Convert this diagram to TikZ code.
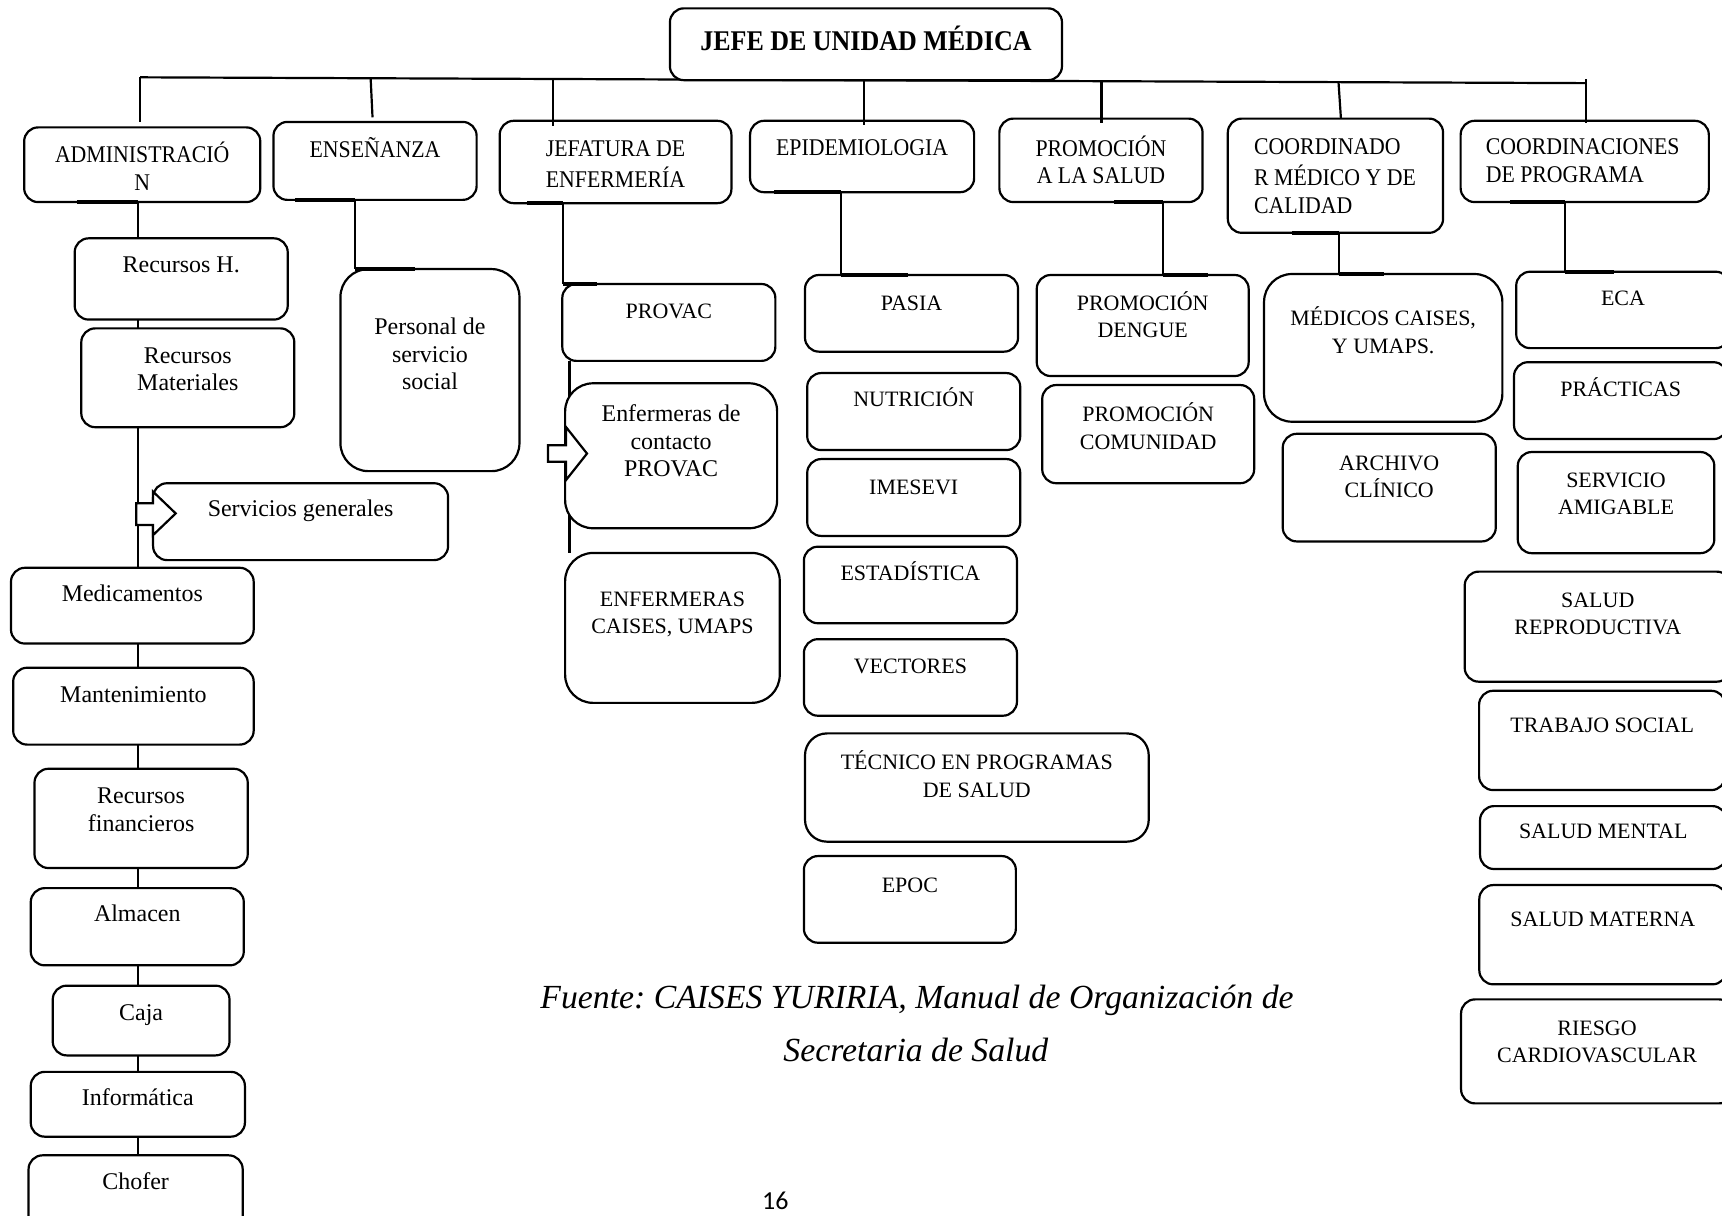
\documentclass[tikz,border=0pt]{standalone}
\usepackage{fontspec}
\setmainfont{Liberation Serif}
\newfontfamily\topf[FakeStretch=0.91]{Liberation Serif}
\newfontfamily\numf{Carlito}
\usetikzlibrary{backgrounds}
\frenchspacing
\tikzset{
  box/.style={draw, line width=1.1pt, rounded corners=7pt, fill=white, inner sep=0pt, outer sep=0pt},
  bigr/.style={rounded corners=14pt},
  medr/.style={rounded corners=11pt},
  conn/.style={line width=1.1pt},
  barl/.style={line width=2.1pt},
  blockarrow/.style={draw, line width=1.1pt, fill=white, line join=miter},
  titlet/.style={font=\topf\bfseries\fontsize{14.3}{16}\selectfont},
  topt/.style={font=\topf\fontsize{12}{13.75}\selectfont},
  upt/.style={font=\fontsize{11}{13.75}\selectfont},
  lowt/.style={font=\fontsize{12}{13.75}\selectfont},
  capt/.style={font=\itshape\fontsize{16.9}{20}\selectfont, inner sep=0pt, anchor=base},
}
% #1 style, #2 name, #3 x1, #4 y1, #5 x2, #6 y2, #7 first baseline y, #8 text
\newcommand\obox[8][]{%
  \pgfmathsetlengthmacro\obw{(#5-#3)*0.55}%
  \pgfmathsetlengthmacro\obh{(#6-#4)*0.55}%
  \pgfmathsetlengthmacro\obo{(#7-#4)*0.55}%
  \node[box,#1,anchor=north west] (#2) at (#3,#4)
    {\parbox[t][\obh][t]{\obw}{\vspace*{\dimexpr\obo-\ht\strutbox\relax}\centering\hyphenpenalty=10000\strut#8\par}};%
}
\begin{document}
\begin{tikzpicture}[x=0.55pt,y=-0.55pt]
\useasboundingbox (0,0) rectangle (1568,1107);
\clip (0,0) rectangle (1568,1107);

% ---------- top level ----------
\obox[titlet]{jefe}{610}{7.6}{967}{73}{44}{JEFE DE UNIDAD MÉDICA}
\obox[topt]{admin}{22}{116}{237}{184}{147}{ADMINISTRACIÓ\\N}
\obox[topt]{ense}{249}{111}{434}{182}{143}{ENSEÑANZA}
\obox[topt]{jefat}{455}{110}{666}{185}{142.5}{JEFATURA DE\\ENFERMERÍA}
\obox[topt]{epi}{683}{110}{887}{175}{142}{EPIDEMIOLOGIA}
\obox[topt]{promo}{910}{108}{1095}{184}{141}{PROMOCIÓN\\A LA SALUD}
\obox[topt]{coordr}{1118}{108}{1314}{212}{141}{\raggedright\leftskip=13.2pt COORDINADO\\R MÉDICO Y DE\\CALIDAD}
\obox[topt]{coordp}{1330}{110}{1556}{184}{141}{\raggedright\leftskip=12.6pt COORDINACIONES\\DE PROGRAMA}

% ---------- administracion ----------
\obox[lowt]{rech}{68}{217}{262}{291}{248.3}{Recursos H.}
\obox[lowt]{recm}{74}{299}{268}{389}{330.6}{Recursos\\Materiales}
\obox[lowt]{servg}{139.4}{440}{408}{510}{470.5}{Servicios generales}
\obox[lowt]{medic}{10}{517}{231}{586}{548}{Medicamentos}
\obox[lowt]{mant}{12}{608}{231}{678}{639.7}{Mantenimiento}
\obox[lowt]{recf}{31.4}{700}{225.6}{790.4}{731.8}{Recursos\\financieros}
\obox[lowt]{almac}{28}{808.7}{222}{879}{838.8}{Almacen}
\obox[lowt]{caja}{48}{897.5}{209}{961}{929}{Caja}
\obox[lowt]{inform}{28}{976}{223}{1035}{1007}{Informática}
\obox[lowt]{chofer}{26}{1052}{221}{1125}{1083}{Chofer}

% ---------- ensenanza ----------
\obox[lowt,bigr]{pers}{310}{245}{473}{429}{305}{Personal de\\servicio\\social}

% ---------- jefatura de enfermeria ----------
\obox[upt]{provac}{512}{258.6}{706}{328.6}{289.8}{PROVAC}
\obox[lowt,bigr]{enfc}{514.6}{349}{707.6}{481}{384}{Enfermeras de\\contacto\\PROVAC}
\obox[upt,bigr]{enfcai}{514.6}{503.5}{710}{640}{551.8}{ENFERMERAS\\CAISES, UMAPS}

% ---------- epidemiologia ----------
\obox[upt]{pasia}{733}{250.4}{927}{320.2}{282.3}{PASIA}
\obox[upt]{nutri}{735}{339.7}{929}{409.8}{370.3}{NUTRICIÓN}
\obox[upt]{imese}{735}{418}{929}{488}{450}{IMESEVI}
\obox[upt]{estad}{732}{497.8}{926}{567.5}{528.8}{ESTADÍSTICA}
\obox[upt]{vect}{732}{582}{926}{651.7}{613}{VECTORES}
\obox[upt,medr]{tecn}{733}{667.8}{1046}{766.4}{701}{TÉCNICO EN PROGRAMAS\\DE SALUD}
\obox[upt]{epoc}{732}{779.5}{925}{858.4}{812.8}{EPOC}

% ---------- promocion ----------
\obox[upt]{dengue}{944}{250.4}{1137}{342.4}{282.3}{PROMOCIÓN\\DENGUE}
\obox[upt]{comun}{949}{350.6}{1142}{440}{384}{PROMOCIÓN\\COMUNIDAD}

% ---------- coordinador medico ----------
\obox[upt,bigr]{medc}{1151}{249.5}{1368}{384}{296.8}{MÉDICOS CAISES,\\Y UMAPS.}
\obox[upt]{archi}{1168}{395}{1362}{493}{428}{ARCHIVO\\CLÍNICO}

% ---------- coordinaciones de programa ----------
\obox[upt]{eca}{1380.6}{247.4}{1575}{317}{278.6}{ECA}
\obox[upt]{pract}{1378.6}{329.8}{1573}{399.8}{361.2}{PRÁCTICAS}
\obox[upt]{servam}{1382}{411.6}{1561}{503.7}{443.8}{SERVICIO\\AMIGABLE}
\obox[upt]{saludr}{1333.7}{520.5}{1576}{620.7}{553}{SALUD\\REPRODUCTIVA}
\obox[upt]{trab}{1346.8}{629}{1571}{719.4}{667}{TRABAJO SOCIAL}
\obox[upt]{mental}{1347.7}{734}{1572}{791.3}{763.4}{SALUD MENTAL}
\obox[upt]{materna}{1347}{805.9}{1572}{896.3}{843.8}{SALUD MATERNA}
\obox[upt]{riesgo}{1330.4}{910}{1578}{1004.7}{942.5}{RIESGO\\CARDIOVASCULAR}

% ---------- lines behind the boxes ----------
\coordinate (busL) at (127.7,70.4);
\coordinate (busR) at (1444,75.7);
\coordinate (cA) at (125.5,0);
\coordinate (cJ2) at (518.5,0);
\begin{pgfonlayer}{background}
  \fill[white] (0,0) rectangle (1568,1107);
  \draw[conn] (busL) -- (busR);
  \draw[conn] (cA |- admin.south) -- (cA |- chofer.north);
  \draw[conn] (cJ2 |- provac.south) -- (cJ2 |- enfcai.north);
\end{pgfonlayer}

% ---------- drops from the bus ----------
\coordinate (dA1) at (127.7,70.4);   \coordinate (dA2) at (127.7,111);
\coordinate (dE1) at (337.5,71.2);   \coordinate (dE2) at (339.2,106.8);
\coordinate (dJ1) at (503.6,71.9);   \coordinate (dJ2) at (503.6,115);
\coordinate (dP1) at (787,73.05);    \coordinate (dP2) at (787,113.8);
\coordinate (dR1) at (1003,73.9);    \coordinate (dR2) at (1003,112.3);
\coordinate (dC1) at (1218.8,74.8);  \coordinate (dC2) at (1221,107.8);
\coordinate (dD1) at (1444,72.2);    \coordinate (dD2) at (1444,112.3);
\draw[conn] (dA1) -- (dA2);
\draw[conn] (dE1) -- (dE2);
\draw[conn] (dJ1) -- (dJ2);
\draw[conn] (dP1) -- (dP2);
\draw[conn] (dR1) -- (dR2);
\draw[conn] (dC1) -- (dC2);
\draw[conn] (dD1) -- (dD2);

% ---------- connectors to children ----------
\draw[barl] (cA |- admin.south) -- ++(-55.5,0);

\coordinate (cE) at (323.5,0);
\draw[conn] (cE |- ense.south) -- (cE |- pers.north);
\draw[barl] (cE |- ense.south) -- ++(-54.5,0);
\draw[barl] (cE |- pers.north) -- ++(54,0);

\coordinate (cJ) at (512.6,0);
\draw[conn] (cJ |- jefat.south) -- (cJ |- provac.north);
\draw[barl] (cJ |- jefat.south) -- ++(-32.6,0);
\draw[barl] (cJ |- provac.north) -- ++(31,0);

\coordinate (cP) at (766,0);
\draw[conn] (cP |- epi.south) -- (cP |- pasia.north);
\draw[barl] (cP |- epi.south) -- ++(-61,0);
\draw[barl] (cP |- pasia.north) -- ++(61,0);

\coordinate (cR) at (1059,0);
\draw[conn] (cR |- promo.south) -- (cR |- dengue.north);
\draw[barl] (cR |- promo.south) -- ++(-45,0);
\draw[barl] (cR |- dengue.north) -- ++(41,0);

\coordinate (cC) at (1219,0);
\draw[conn] (cC |- coordr.south) -- (cC |- medc.north);
\draw[barl] (cC |- coordr.south) -- ++(-43,0);
\draw[barl] (cC |- medc.north) -- ++(41,0);

\coordinate (cD) at (1425,0);
\draw[conn] (cD |- coordp.south) -- (cD |- eca.north);
\draw[barl] (cD |- coordp.south) -- ++(-50,0);
\draw[barl] (cD |- eca.north) -- ++(45,0);

% ---------- block arrows ----------
\draw[blockarrow] (124,458.3) -- (139.4,458.3) -- (139.4,447.7) -- (160,467.5)
  -- (139.4,487.2) -- (139.4,478) -- (124,478) -- cycle;
\draw[blockarrow] (499,405.5) -- (515.5,405.5) -- (515.5,389) -- (534.5,413)
  -- (515.5,437) -- (515.5,420.5) -- (499,420.5) -- cycle;

% ---------- caption ----------
\node[capt] (fuente1) at (835,918) {Fuente: CAISES YURIRIA, Manual de Organización de};
\node[capt] (fuente2) at (834,966.7) {Secretaria de Salud};
\node[font=\numf\fontsize{13}{15}\selectfont, anchor=base, inner sep=0pt] (pnum) at (706,1101.5) {16};
\end{tikzpicture}
\end{document}
